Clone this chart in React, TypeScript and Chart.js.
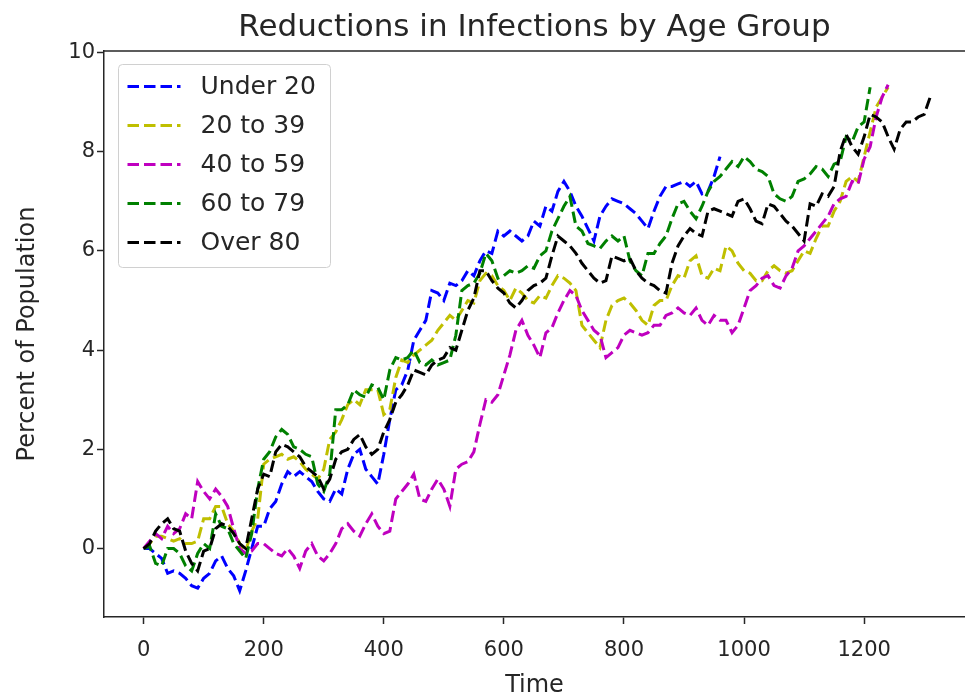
import { useEffect, useRef } from "react";
import { Chart, registerables } from "chart.js";

Chart.register(...registerables);

const STEP = 10;
const TITLE = "Reductions in Infections by Age Group";
const X_TITLE = "Time";
const Y_TITLE = "Percent of Population";
const X_TICKS = [0, 200, 400, 600, 800, 1000, 1200];
const Y_TICKS = [0, 2, 4, 6, 8, 10];
const SERIES_LABELS = ["Under 20", "20 to 39", "40 to 59", "60 to 79", "Over 80"];
const SERIES_COLORS = ["#0000ff", "#bfbf00", "#bf00bf", "#008000", "#000000"];

const UNDER_20 = [
  0, 0.0, -0.1, -0.2, -0.5, -0.45, -0.5, -0.6, -0.75, -0.8,
  -0.6, -0.5, -0.25, -0.15, -0.4, -0.55, -0.85, -0.45, 0.0, 0.45,
  0.45, 0.8, 0.95, 1.3, 1.55, 1.45, 1.55, 1.45, 1.35, 1.15,
  1.0, 0.95, 1.2, 1.1, 1.6, 1.9, 2.0, 1.6, 1.45, 1.3,
  1.9, 2.6, 3.2, 3.3, 3.6, 4.2, 4.4, 4.6, 5.2, 5.15,
  5.0, 5.35, 5.3, 5.4, 5.6, 5.5, 5.8, 6.0, 5.95, 6.4,
  6.3, 6.4, 6.3, 6.2, 6.3, 6.6, 6.5, 6.9, 6.8, 7.2,
  7.4, 7.2, 6.9, 6.7, 6.45, 6.2, 6.7, 6.9, 7.05, 7.0,
  6.95, 6.85, 6.75, 6.6, 6.45, 6.8, 7.1, 7.3, 7.3, 7.35,
  7.4, 7.3, 7.4, 7.15, 7.2, 7.5, 7.9,
];

const AGE_20_39 = [
  0, 0.1, 0.25, 0.25, 0.2, 0.15, 0.2, 0.1, 0.1, 0.15,
  0.6, 0.6, 0.85, 0.85, 0.5, 0.35, 0.1, -0.05, 0.35, 0.6,
  1.7, 1.8, 1.85, 1.9, 1.8, 1.85, 1.75, 1.6, 1.5, 1.4,
  1.6, 2.2, 2.35, 2.6, 2.9, 3.0, 2.9, 3.2, 3.2, 3.2,
  2.7, 2.8, 3.45, 3.8, 3.75, 3.9, 4.0, 4.1, 4.2, 4.4,
  4.55, 4.7, 4.6, 4.8, 5.0, 4.95, 5.4, 5.55, 5.5, 5.3,
  5.2, 5.0, 5.25, 5.15, 5.0, 4.95, 5.1, 5.05, 5.3, 5.5,
  5.45, 5.35, 5.2, 4.5, 4.35, 4.2, 4.05, 4.6, 4.9, 5.0,
  5.05, 4.95, 4.8, 4.6, 4.5, 4.9, 5.0, 5.0, 5.3, 5.5,
  5.45, 5.8, 5.9, 5.5, 5.45, 5.65, 5.6, 6.1, 6.0, 5.75,
  5.6, 5.55, 5.4, 5.4, 5.6, 5.7, 5.6, 5.55, 5.6, 5.8,
  6.0, 5.95, 6.25, 6.5, 6.5, 6.8, 7.0, 7.4, 7.5, 7.4,
  7.9, 8.4, 8.9, 9.1, 9.3,
];

const AGE_40_59 = [
  0, 0.15, 0.3, 0.2, 0.45, 0.3, 0.4, 0.7, 0.6, 1.35,
  1.15, 1.0, 1.2, 1.05, 0.85, 0.4, 0.0, -0.1, -0.05, 0.1,
  0.1, 0.0, -0.1, -0.15, 0.0, -0.15, -0.4, -0.05, 0.1, -0.15,
  -0.25, -0.1, 0.1, 0.4, 0.5, 0.35, 0.25, 0.5, 0.7, 0.45,
  0.3, 0.35, 1.0, 1.15, 1.3, 1.5, 1.0, 0.95, 1.2, 1.4,
  1.2, 0.85, 1.6, 1.7, 1.75, 1.95, 2.5, 3.0, 2.95, 3.1,
  3.5, 3.9, 4.4, 4.6, 4.3, 4.1, 3.85, 4.35, 4.45, 4.75,
  5.0, 5.2, 5.1, 4.8, 4.6, 4.4, 4.3, 3.85, 3.95, 4.05,
  4.3, 4.4, 4.35, 4.3, 4.35, 4.5, 4.5, 4.7, 4.75, 4.85,
  4.75, 4.7, 4.85, 4.6, 4.5, 4.7, 4.6, 4.6, 4.35, 4.5,
  4.85, 5.2, 5.3, 5.45, 5.5, 5.3, 5.25, 5.5, 5.65, 6.0,
  6.1, 6.25, 6.4, 6.55, 6.7, 6.95, 7.05, 7.1, 7.4, 7.35,
  7.85, 8.1, 8.7, 9.1, 9.35,
];

const AGE_60_79 = [
  0, 0.05, -0.3, -0.35, 0.0, 0.0, -0.1, -0.35, -0.45, -0.1,
  0.1, 0.0, 0.7, 0.45, 0.4, 0.1, -0.05, -0.2, 0.3, 1.2,
  1.8, 1.95, 2.25, 2.4, 2.3, 2.05, 2.0, 1.9, 1.85, 1.3,
  1.15, 1.5, 2.8, 2.8, 2.9, 3.2, 3.1, 3.05, 3.3, 3.25,
  3.0, 3.6, 3.85, 3.8, 3.85, 4.0, 3.75, 3.7, 3.8, 3.7,
  3.75, 3.8, 4.3, 5.2, 5.3, 5.35, 5.55, 5.95, 5.8, 5.45,
  5.5, 5.6, 5.55, 5.6, 5.7, 5.65, 5.9, 6.0, 6.4, 6.65,
  6.9, 7.1, 6.5, 6.4, 6.15, 6.1, 6.05, 6.2, 6.3, 6.2,
  6.3, 5.8, 5.6, 5.5, 5.95, 5.95, 6.15, 6.3, 6.65, 6.95,
  7.0, 6.8, 6.65, 6.9, 7.2, 7.4, 7.5, 7.65, 7.8, 7.7,
  7.9, 7.8, 7.65, 7.6, 7.5, 7.15, 7.05, 7.0, 7.1, 7.4,
  7.45, 7.55, 7.7, 7.65, 7.5, 7.75, 7.8, 8.3, 8.2, 8.5,
  8.6, 9.3,
];

const OVER_80 = [
  0, 0.1, 0.35, 0.5, 0.6, 0.4, 0.35, -0.05, -0.3, -0.45,
  -0.05, 0.0, 0.4, 0.5, 0.45, 0.3, 0.1, 0.0, 0.6, 1.2,
  1.5, 1.45, 1.95, 2.1, 2.05, 1.95, 1.85, 1.65, 1.55, 1.45,
  1.2, 1.4, 1.8, 1.95, 2.0, 2.2, 2.3, 2.05, 1.9, 2.0,
  2.35, 2.6, 2.95, 3.1, 3.3, 3.6, 3.55, 3.5, 3.7, 3.8,
  3.85, 4.05, 4.0, 4.4, 4.8, 5.05, 5.6, 5.6, 5.4, 5.25,
  5.15, 4.95, 4.85, 5.0, 5.2, 5.3, 5.35, 5.45, 5.9, 6.3,
  6.2, 6.1, 5.95, 5.75, 5.6, 5.45, 5.35, 5.4, 5.9, 5.85,
  5.8, 5.85, 5.6, 5.45, 5.35, 5.3, 5.2, 5.15, 5.75, 6.1,
  6.3, 6.45, 6.35, 6.3, 6.8, 6.85, 6.8, 6.75, 6.7, 7.0,
  7.05, 6.85, 6.6, 6.55, 6.95, 6.9, 6.75, 6.6, 6.5, 6.35,
  6.2, 6.95, 6.9, 7.15, 7.1, 7.3, 8.0, 8.35, 8.1, 7.95,
  8.3, 8.75, 8.7, 8.6, 8.3, 8.05, 8.45, 8.6, 8.6, 8.7,
  8.75, 9.1,
];

const SERIES_VALUES = [UNDER_20, AGE_20_39, AGE_40_59, AGE_60_79, OVER_80];

const FONT = "'DejaVu Sans', sans-serif";
const TEXT_COLOR = "#262626";

const toPoints = (vals: number[]) => vals.map((v, i) => ({ x: i * STEP, y: v }));

const frameAndLegend = {
  id: "frameAndLegend",
  afterDatasetsDraw(chart: any) {
    const { ctx, chartArea } = chart;
    ctx.save();
    // top spine
    ctx.strokeStyle = TEXT_COLOR;
    ctx.lineWidth = 1.5;
    ctx.beginPath();
    ctx.moveTo(chartArea.left, chartArea.top);
    ctx.lineTo(chartArea.right, chartArea.top);
    ctx.stroke();

    // legend
    const x0 = chartArea.left + 14.5;
    const y0 = chartArea.top + 13.5;
    const w = 212;
    const h = 203;
    ctx.beginPath();
    (ctx as any).roundRect(x0, y0, w, h, 4);
    ctx.fillStyle = "rgba(255,255,255,0.8)";
    ctx.fill();
    ctx.strokeStyle = "#d0d0d0";
    ctx.lineWidth = 1;
    ctx.stroke();
    chart.data.datasets.forEach((ds: any, i: number) => {
      const cy = y0 + 22 + i * 39;
      ctx.setLineDash([11.5, 5]);
      ctx.lineWidth = 3;
      ctx.lineCap = "butt";
      ctx.strokeStyle = ds.borderColor;
      ctx.beginPath();
      ctx.moveTo(x0 + 9, cy);
      ctx.lineTo(x0 + 62, cy);
      ctx.stroke();
      ctx.setLineDash([]);
      ctx.fillStyle = TEXT_COLOR;
      ctx.font = `25px ${FONT}`;
      ctx.textBaseline = "middle";
      ctx.textAlign = "left";
      ctx.fillText(ds.label, x0 + 82, cy + 1);
    });
    ctx.restore();
  },
};

export default function App() {
  const canvasRef = useRef<HTMLCanvasElement | null>(null);

  useEffect(() => {
    document.body.style.margin = "0";
    const canvas = canvasRef.current;
    if (!canvas) return;
    const datasets = SERIES_VALUES.map((vals, i) => ({
      label: SERIES_LABELS[i],
      data: toPoints(vals),
      borderColor: SERIES_COLORS[i],
      backgroundColor: SERIES_COLORS[i],
      borderWidth: 3,
      borderDash: [11.5, 5],
      pointRadius: 0,
      tension: 0,
      fill: false,
      order: SERIES_VALUES.length - i,
    }));

    const chart = new Chart(canvas, {
      type: "line",
      data: { datasets },
      options: {
        responsive: false,
        animation: false,
        devicePixelRatio: 1,
        layout: { padding: 0 },
        plugins: {
          legend: { display: false },
          tooltip: { enabled: false },
          title: {
            display: true,
            text: TITLE,
            fullSize: false,
            color: TEXT_COLOR,
            font: { family: FONT, size: 31, weight: "normal", lineHeight: 1.15 },
            padding: { top: 10, bottom: 5.35 },
          },
        },
        scales: {
          x: {
            type: "linear",
            min: -66,
            max: 1368,
            afterBuildTicks: (scale: any) => {
              scale.ticks = X_TICKS.map((v) => ({ value: v }));
            },
            afterFit: (scale: any) => {
              scale.height = 79;
            },
            grid: {
              drawOnChartArea: false,
              drawTicks: true,
              tickLength: 7,
              tickWidth: 1.5,
              tickColor: TEXT_COLOR,
            },
            border: { display: true, color: TEXT_COLOR, width: 1.5 },
            ticks: {
              color: TEXT_COLOR,
              padding: 14,
              maxRotation: 0,
              autoSkip: false,
              font: { family: FONT, size: 21 },
              callback: (v: any) => String(v),
            },
            title: {
              display: true,
              text: X_TITLE,
              color: TEXT_COLOR,
              font: { family: FONT, size: 24, lineHeight: 0.85 },
              padding: { top: 0, bottom: 0 },
            },
          },
          y: {
            type: "linear",
            min: -1.38,
            max: 10.03,
            afterBuildTicks: (scale: any) => {
              scale.ticks = Y_TICKS.map((v) => ({ value: v }));
            },
            afterFit: (scale: any) => {
              scale.width = 104;
            },
            grid: {
              drawOnChartArea: false,
              drawTicks: true,
              tickLength: 7,
              tickWidth: 1.5,
              tickColor: TEXT_COLOR,
            },
            border: { display: true, color: TEXT_COLOR, width: 1.5 },
            ticks: {
              color: TEXT_COLOR,
              padding: 2,
              font: { family: FONT, size: 21 },
              callback: (v: any) => String(v),
            },
            title: {
              display: true,
              text: Y_TITLE,
              color: TEXT_COLOR,
              font: { family: FONT, size: 24, lineHeight: 1 },
              padding: { top: 16, bottom: 0 },
            },
          },
        },
      },
      plugins: [frameAndLegend],
    } as any);

    return () => chart.destroy();
  }, []);

  return (
    <div style={{ width: 965, height: 696, overflow: "hidden" }}>
      <canvas ref={canvasRef} width={965} height={696} style={{ display: "block" }} />
    </div>
  );
}
